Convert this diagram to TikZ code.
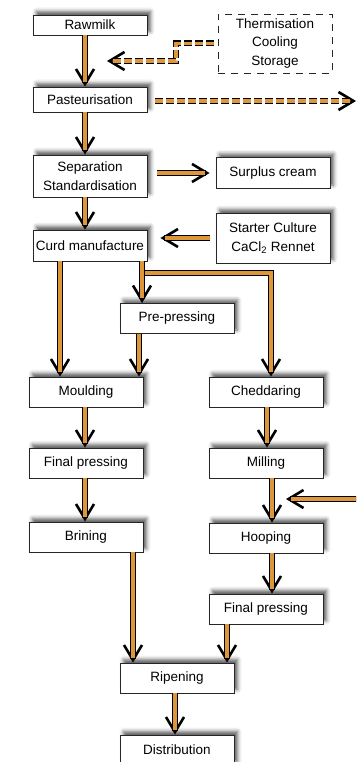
\documentclass[tikz,border=0pt]{standalone}
\usepackage{fontspec}
\setmainfont{Liberation Sans}
\usetikzlibrary{arrows.meta,shadows.blur}
\definecolor{milkor}{RGB}{222,150,58}
\tikzset{
  stage/.style={draw=black!85, line width=0.9pt, fill=white, minimum width=114pt,
    minimum height=30pt, inner sep=1pt, align=center, font=\fontsize{13.5}{19}\selectfont,
    blur shadow={shadow xshift=3.5pt, shadow yshift=3.5pt, shadow blur radius=4pt, shadow opacity=65}},
  flow/.style={draw=black, line width=6pt, -{Straight Barb[length=15pt,width=18pt,line width=2.6pt]},
    postaction={draw=milkor, line width=3.4pt, -, shorten >=5pt}},
  dflow/.style={flow, dash pattern=on 8pt off 3pt}
}

\begin{document}
\begin{tikzpicture}[x=1pt,y=-1pt]
\useasboundingbox (0,0) rectangle (356,762);
\clip (0,0) rectangle (356,762);
% left column
\node[stage, minimum height=20pt] (raw) at (90,25) {Rawmilk};
\node[stage, minimum height=25pt] (past) at (90,99.5) {Pasteurisation};
\node[stage, minimum height=42pt] (sep) at (90,176) {Separation\\Standardisation};
\node[stage, minimum height=31pt] (curd) at (90,245.5) {Curd manufacture};
\node[stage] (pre) at (177,318.5) {Pre-pressing};
\node[stage] (mould) at (86,392) {Moulding};
\node[stage] (finl) at (86,463) {Final pressing};
\node[stage] (brine) at (86,537) {Brining};
% right column
\node[draw=black!85, line width=0.9pt, dash pattern=on 7pt off 6pt, minimum width=114pt,
  minimum height=59pt, align=center, font=\fontsize{13.5}{18.5}\selectfont] (therm) at (275,43.5)
  {Thermisation\\Cooling\\Storage};
\node[stage, minimum height=31pt] (surplus) at (273,173) {Surplus cream};
\node[stage, minimum height=50pt] (start) at (273,238) {Starter Culture\\CaCl\textsubscript{2} Rennet};
\node[stage] (chedd) at (266,392) {Cheddaring};
\node[stage] (mill) at (266,463) {Milling};
\node[stage] (hoop) at (266,538) {Hooping};
\node[stage] (finr) at (266,609) {Final pressing};
% bottom
\node[stage] (ripen) at (177,678) {Ripening};
\node[stage] (dist) at (177,750) {Distribution};

\coordinate (coolin) at (107,61);
\coordinate (out) at (356,101);
\coordinate (fork) at (142,273);
\coordinate (extra) at (360,499);
\coordinate (hoopin) at (286,499);

% dashed side streams
\draw[dflow] ([xshift=-4pt]therm.west) -- (176,43.5) -- (176,61) -- (coolin);
\draw[dflow] ([xshift=8pt,yshift=-1.5pt]past.east) -- (out);

% main line
\draw[flow] ([xshift=-5pt]raw.south) -- ([xshift=-5pt]past.north);
\draw[flow] ([xshift=-5pt]past.south) -- ([xshift=-5pt]sep.north);
\draw[flow] ([xshift=-5pt]sep.south) -- ([xshift=-5pt]curd.north);
\draw[flow] ([xshift=10pt]sep.east |- surplus.west) -- ([xshift=-6pt]surplus.west);
\draw[flow] ([xshift=-6pt]start.west) -- ([xshift=13pt]curd.east |- start.west);
\draw[flow] ([xshift=-30pt]curd.south) -- ([xshift=-26pt]mould.north);
\draw[flow] (curd.south -| fork) -- (fork) -| ([xshift=5pt]chedd.north);
\draw[flow] (curd.south -| fork) -- (pre.north -| fork);
\draw[flow] ([xshift=-38pt]pre.south) -- ([xshift=53pt]mould.north);
\draw[flow] ([xshift=-1pt]mould.south) -- ([xshift=-1pt]finl.north);
\draw[flow] ([xshift=-1pt]finl.south) -- ([xshift=-1pt]brine.north);
\draw[flow] ([xshift=47pt]brine.south) -- ([xshift=-44pt]ripen.north);
\draw[flow] ([xshift=1pt]chedd.south) -- ([xshift=1pt]mill.north);
\draw[flow] ([xshift=6pt]mill.south) -- ([xshift=6pt]hoop.north);
\draw[flow] (extra) -- (hoopin);
\draw[flow] ([xshift=6pt]hoop.south) -- ([xshift=6pt]finr.north);
\draw[flow] ([xshift=-39pt]finr.south) -- ([xshift=50pt]ripen.north);
\draw[flow] ([xshift=-2pt]ripen.south) -- ([xshift=-2pt]dist.north);
\end{tikzpicture}
\end{document}
